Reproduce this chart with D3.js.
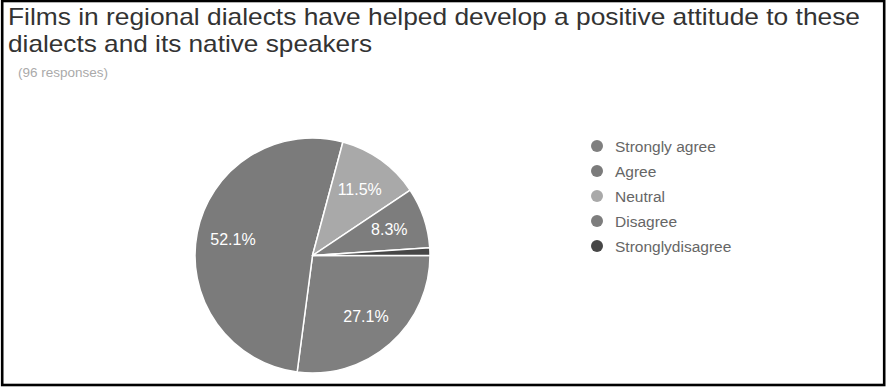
<!DOCTYPE html>
<html>
<head>
<meta charset="utf-8">
<script src="https://cdn.jsdelivr.net/npm/d3@7/dist/d3.min.js"></script>
<style>
  html, body { margin: 0; padding: 0; background: #fff; }
  svg { display: block; }
</style>
</head>
<body>
<svg id="chart" width="889" height="387"></svg>
<script>
// Survey answers and their counts (96 responses in total)
const categories = ["Strongly agree", "Agree", "Neutral", "Disagree", "Stronglydisagree"];
const responses = [26, 50, 11, 8, 1];
const sliceColors = ["#7f7f7f", "#7b7b7b", "#a9a9a9", "#7d7d7d", "#474747"];
const titleLines = [
  "Films in regional dialects have helped develop a positive attitude to these",
  "dialects and its native speakers"
];
const responseNote = "(96 responses)";

const svg = d3.select("#chart");

// outer frame
svg.append("rect")
  .attr("x", 2.2).attr("y", 1)
  .attr("width", 882).attr("height", 384)
  .attr("fill", "#fff")
  .attr("stroke", "#000")
  .attr("stroke-width", 2.6);

// title, two lines
const titleWidths = [852, 364];
titleLines.forEach((t, i) => {
  svg.append("text")
    .attr("x", 8).attr("y", 25 + i * 27)
    .attr("font-family", "Liberation Sans, Arial, sans-serif")
    .attr("font-size", 24)
    .attr("fill", "#333")
    .attr("textLength", titleWidths[i])
    .attr("lengthAdjust", "spacingAndGlyphs")
    .text(t);
});

svg.append("text")
  .attr("x", 18).attr("y", 77)
  .attr("font-family", "Liberation Sans, Arial, sans-serif")
  .attr("font-size", 13.5)
  .attr("fill", "#aaa")
  .attr("textLength", 90)
  .attr("lengthAdjust", "spacingAndGlyphs")
  .text(responseNote);

// pie
const cx = 312.5, cy = 255.5, R = 117.5;
const total = d3.sum(responses);
const color = d3.scaleOrdinal().domain(categories).range(sliceColors);

const pie = d3.pie()
  .value(d => d.value)
  .sort(null)
  .startAngle(Math.PI / 2)
  .endAngle(Math.PI / 2 + 2 * Math.PI);

const data = categories.map((c, i) => ({ name: c, value: responses[i] }));
const arcs = pie(data);

const arc = d3.arc().innerRadius(0).outerRadius(R);
const labelArc = d3.arc().innerRadius(R * 0.69).outerRadius(R * 0.69);

const g = svg.append("g").attr("transform", `translate(${cx},${cy})`);

g.selectAll("path.slice")
  .data(arcs)
  .join("path")
  .attr("class", "slice")
  .attr("d", arc)
  .attr("fill", d => color(d.data.name))
  .attr("stroke", "#fff")
  .attr("stroke-width", 1.5)
  .attr("stroke-linejoin", "round");

const fmt = v => (v / total * 100).toFixed(1) + "%";

g.selectAll("text.pct")
  .data(arcs.filter(d => d.data.value / total >= 0.05))
  .join("text")
  .attr("class", "pct")
  .attr("transform", d => {
    const [x, y] = labelArc.centroid(d);
    return `translate(${x},${y})`;
  })
  .attr("text-anchor", "middle")
  .attr("dominant-baseline", "central")
  .attr("font-family", "Liberation Sans, Arial, sans-serif")
  .attr("font-size", 16)
  .attr("fill", "#fff")
  .text(d => fmt(d.data.value));

// legend
const legendY = d3.scalePoint().domain(categories).range([146, 246]);
const legend = svg.append("g");
const items = legend.selectAll("g")
  .data(categories)
  .join("g")
  .attr("transform", d => `translate(597,${legendY(d)})`);

items.append("circle")
  .attr("r", 6)
  .attr("fill", d => color(d));

items.append("text")
  .attr("x", 18).attr("y", 5.5)
  .attr("font-family", "Liberation Sans, Arial, sans-serif")
  .attr("font-size", 15.5)
  .attr("fill", "#666")
  .text(d => d);
</script>
</body>
</html>
